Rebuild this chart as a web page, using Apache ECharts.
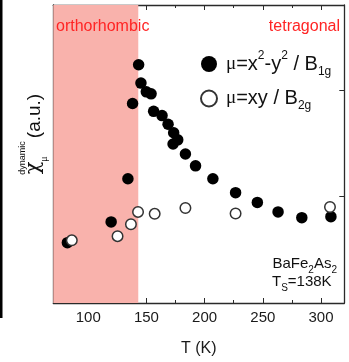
<!DOCTYPE html>
<html>
<head>
<meta charset="utf-8">
<script src="https://cdn.jsdelivr.net/npm/echarts@6/dist/echarts.min.js"></script>
<style>
  html, body { margin: 0; padding: 0; background: #fff; }
  #chart { width: 349px; height: 362px; }
</style>
</head>
<body>
<div id="chart"></div>
<script>
// Temperature (K) and dynamic susceptibility (arb. units) for BaFe2As2
const b1gTemp = [82.1, 119.7, 134.1, 138.1, 143.3, 145.3, 149.9, 154.0, 156.2, 163.4, 168.6, 173.4, 176.9, 172.9, 183.5, 192.2, 207.1, 226.6, 245.3, 263.1, 283.5, 308.5];
const b1gChi  = [0.567, 0.762, 1.167, 1.874, 2.239, 2.066, 1.984, 1.965, 1.801, 1.761, 1.679, 1.600, 1.533, 1.494, 1.400, 1.289, 1.167, 1.037, 0.945, 0.856, 0.802, 0.811];
const b2gTemp = [85.9, 125.2, 136.7, 142.8, 157.1, 183.5, 226.6, 307.7];
const b2gChi  = [0.589, 0.628, 0.740, 0.856, 0.838, 0.893, 0.841, 0.902];

// Orthorhombic phase region (K)
const orthoRange = [70, 143];

// Axis ranges and ticks
const tempRange = [70, 320];
const tempMajorTicks = [100, 150, 200, 250, 300];
const tempMinorTicks = [75, 125, 175, 225, 275];
const chiRange = [0, 2.8];
const chiTicks = [1, 2];

const b1gName = 'B1g';
const b2gName = 'B2g';

const FONT = 'Liberation Sans, Arial, sans-serif';
const AXIS_COLOR = '#2a2a2a';

function pairs(xs, ys) { return xs.map((x, i) => [x, ys[i]]); }

function xAxisDef(position, ticks, len, showLabel, showLine) {
  return {
    type: 'value', position, min: tempRange[0], max: tempRange[1],
    axisLine: { show: showLine, onZero: false, lineStyle: { color: AXIS_COLOR, width: 1.3 } },
    axisTick: { show: true, inside: true, length: len, customValues: ticks, lineStyle: { color: AXIS_COLOR, width: 1 } },
    axisLabel: { show: showLabel, customValues: tempMajorTicks, color: '#1a1a1a', fontSize: 15, fontFamily: FONT, margin: 7 },
    splitLine: { show: false }
  };
}

function yAxisDef(position) {
  return {
    type: 'value', position, min: chiRange[0], max: chiRange[1],
    axisLine: { show: true, onZero: false, lineStyle: { color: AXIS_COLOR, width: 1.3 } },
    axisTick: { show: true, inside: true, length: 5, customValues: chiTicks, lineStyle: { color: AXIS_COLOR, width: 1 } },
    axisLabel: { show: false },
    splitLine: { show: false }
  };
}

const chart = echarts.init(document.getElementById('chart'), null, { renderer: 'canvas' });

const legendRich = {
  mu:  { fontFamily: 'Liberation Serif, serif', fontSize: 19, lineHeight: 30, color: '#111' },
  m:   { fontFamily: FONT, fontSize: 20, lineHeight: 30, color: '#111' },
  sup: { fontFamily: FONT, fontSize: 12, verticalAlign: 'top', height: 14, color: '#111' },
  sub: { fontFamily: FONT, fontSize: 12, verticalAlign: 'bottom', height: 15, color: '#111' }
};

const subRich = {
  m: { fontFamily: FONT, fontSize: 15, lineHeight: 22, fill: '#111' },
  s: { fontFamily: FONT, fontSize: 10, verticalAlign: 'bottom', height: 10, fill: '#111' }
};

chart.setOption({
  animation: false,
  grid: { left: 53.3, right: 4.7, top: 5, bottom: 49.3, containLabel: false },
  xAxis: [
    Object.assign(xAxisDef('bottom', tempMajorTicks, 5, true, true), {
      name: 'T (K)', nameLocation: 'middle', nameGap: 38,
      nameTextStyle: { fontSize: 16, fontFamily: FONT, color: '#1a1a1a' }
    }),
    xAxisDef('top', tempMajorTicks, 5, false, true),
    xAxisDef('bottom', tempMinorTicks, 3, false, false),
    xAxisDef('top', tempMinorTicks, 3, false, false)
  ],
  yAxis: [yAxisDef('left'), yAxisDef('right')],
  legend: {
    orient: 'vertical', left: 195, top: 45, itemGap: 11,
    itemWidth: 16, itemHeight: 16, selectedMode: false,
    data: [{ name: b1gName, icon: 'circle' }, { name: b2gName, icon: 'circle' }],
    formatter: function (name) {
      if (name === b1gName) return '{mu|μ}{m|=x}{sup|2}{m|-y}{sup|2}{m| / B}{sub|1g}';
      return '{mu|μ}{m|=xy / B}{sub|2g}';
    },
    textStyle: { rich: legendRich, padding: [0, 0, 0, 4] }
  },
  series: [
    {
      // shaded orthorhombic phase
      type: 'scatter', data: [], z: 1, silent: true,
      markArea: {
        silent: true,
        itemStyle: { color: '#f9b2ac', opacity: 1 },
        data: [[{ xAxis: orthoRange[0] }, { xAxis: orthoRange[1] }]]
      }
    },
    {
      name: b1gName, type: 'scatter', z: 3,
      data: pairs(b1gTemp, b1gChi),
      symbol: 'circle', symbolSize: 11.5,
      itemStyle: { color: '#000', borderColor: '#000', borderWidth: 0, opacity: 1 }
    },
    {
      name: b2gName, type: 'scatter', z: 4,
      data: pairs(b2gTemp, b2gChi),
      symbol: 'circle', symbolSize: 10.5,
      itemStyle: { color: '#fff', borderColor: '#333', borderWidth: 1.5, opacity: 1 }
    }
  ],
  graphic: [
    { type: 'rect', z: 50, left: 0, top: 0, shape: { width: 2.5, height: 318 }, style: { fill: '#000' }, silent: true },
    { type: 'text', z: 50, x: 56, y: 27, style: { text: 'orthorhombic', font: '16px ' + FONT, fill: '#ff2424', verticalAlign: 'middle', align: 'left' } },
    { type: 'text', z: 50, x: 340, y: 27, style: { text: 'tetragonal', font: '16px ' + FONT, fill: '#ff2424', verticalAlign: 'middle', align: 'right' } },
    { type: 'text', z: 50, x: 337, y: 264, style: { text: '{m|BaFe}{s|2}{m|As}{s|2}', align: 'right', verticalAlign: 'middle', rich: subRich } },
    { type: 'text', z: 50, x: 272, y: 282, style: { text: '{m|T}{s|S}{m|=138K}', align: 'left', verticalAlign: 'middle', rich: subRich } },
    // vertical axis title: χ_μ^dynamic (a.u.)
    { type: 'text', z: 50, x: 34, y: 168, rotation: Math.PI / 2, style: { text: 'χ', font: '21px DejaVu Serif, serif', fill: '#111', align: 'center', verticalAlign: 'middle' } },
    { type: 'text', z: 50, x: 44, y: 159, rotation: Math.PI / 2, style: { text: 'μ', font: '10px Liberation Serif, serif', fill: '#111', align: 'center', verticalAlign: 'middle' } },
    { type: 'text', z: 50, x: 23, y: 158, rotation: Math.PI / 2, style: { text: 'dynamic', font: '9px ' + FONT, fill: '#111', align: 'center', verticalAlign: 'middle' } },
    { type: 'text', z: 50, x: 35, y: 116, rotation: Math.PI / 2, style: { text: '(a.u.)', font: '19px ' + FONT, fill: '#111', align: 'center', verticalAlign: 'middle' } }
  ]
});
</script>
</body>
</html>
